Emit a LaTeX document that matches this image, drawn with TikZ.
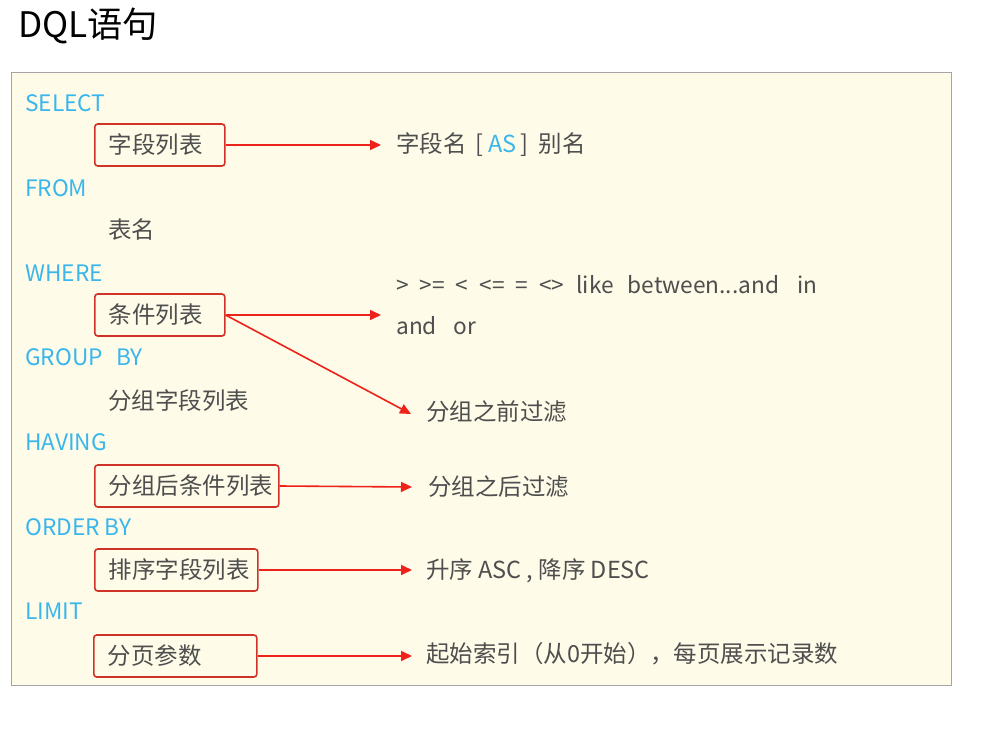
\documentclass[tikz,border=0pt]{standalone}
\usepackage{fontspec}
\setmainfont{Noto Sans CJK SC}
\usetikzlibrary{arrows.meta}
\newdimen\px \px=0.75pt
\definecolor{panelbg}{RGB}{254,251,232}
\definecolor{panelline}{RGB}{165,165,165}
\definecolor{kw}{RGB}{58,182,236}
\definecolor{txt}{RGB}{78,78,78}
\definecolor{boxline}{RGB}{208,50,40}
\definecolor{arr}{RGB}{238,34,26}
\newcommand{\bxt}[2]{\makebox[#1\px][l]{\hspace*{14\px}#2}}
\newcommand{\gp}[1]{\hspace{#1\px}}
\tikzset{
  base/.style={inner sep=0pt, anchor=west, font=\fontsize{17.6}{20}\selectfont},
  keyword/.style={inner sep=0pt, anchor=west, font=\fontsize{17}{20}\selectfont, text=kw},
  plain/.style={base, text=txt},
  redbox/.style={base, text=txt, draw=boxline, line width=1.2pt, rounded corners=2.2pt, minimum height=31.5pt},
  link/.style={draw=arr, line width=1.2pt, -{Triangle[length=8.25pt,width=7.5pt]}}
}
\begin{document}
\begin{tikzpicture}[x=0.75pt,y=-0.75pt]
\useasboundingbox (0,0) rectangle (1004,738);
\node[anchor=west, inner sep=0pt, font=\fontsize{26.4}{30}\selectfont] (title) at (18,26) {DQL语句};
\node[draw=panelline, fill=panelbg, line width=0.75pt, anchor=north west, minimum width=705pt, minimum height=459.75pt, inner sep=0pt] (panel) at (11,72) {};
% keywords
\node[keyword] (k1) at (25,103) {SELECT};
\node[keyword] (k2) at (25,188) {FROM};
\node[keyword] (k3) at (25,273) {WHERE};
\node[keyword] (k4) at (25,357) {GROUP\hspace{0.6em}BY};
\node[keyword] (k5) at (25,442) {HAVING};
\node[keyword] (k6) at (25,527) {ORDER BY};
\node[keyword] (k7) at (25,611) {LIMIT};
% plain items
\node[plain] (tbl) at (108,230) {表名};
\node[plain] (grp) at (108,401) {分组字段列表};
% boxes
\node[redbox] (b1) at (94,145) {\bxt{130}{字段列表}};
\node[redbox] (b2) at (94,315) {\bxt{130}{条件列表}};
\node[redbox] (b3) at (94,486) {\bxt{184}{分组后条件列表}};
\node[redbox] (b4) at (94,570) {\bxt{163}{排序字段列表}};
\node[redbox] (b5) at (93,656) {\bxt{163}{分页参数}};
% targets
\node[plain] (t1) at (396,145) {字段名\gp{9}[\gp{5}\textcolor{kw}{AS}\gp{4}]\gp{10}别名};
\node[plain, font=\fontsize{17}{20}\selectfont] (t2a) at (396,285) {>\gp{11}>=\gp{11}<\gp{11}<=\gp{11}=\gp{11}<>\gp{12}like\gp{14}between...and\gp{18}in};
\node[plain, font=\fontsize{17}{20}\selectfont] (t2b) at (396,326) {and\gp{17}or};
\node[plain] (t3) at (426,412) {分组之前过滤};
\node[plain] (t4) at (428,487) {分组之后过滤};
\node[plain] (t5) at (426,571) {升序 ASC , 降序 DESC};
\node[plain] (t6) at (426,654) {起始索引（从0开始），每页展示记录数};
% arrow ends
\coordinate (e1) at (381,145);
\coordinate (e2) at (381,315);
\coordinate (e2b) at (411,414);
\coordinate (e3) at (412,487);
\coordinate (e4) at (412,570);
\coordinate (e5) at (412,656);
\draw[link] (b1.east) -- (e1);
\draw[link] (b2.east) -- (e2);
\draw[link] (b2.east) -- (e2b);
\draw[link] (b3.east) -- (e3);
\draw[link] (b4.east) -- (e4);
\draw[link] (b5.east) -- (e5);
\end{tikzpicture}
\end{document}
